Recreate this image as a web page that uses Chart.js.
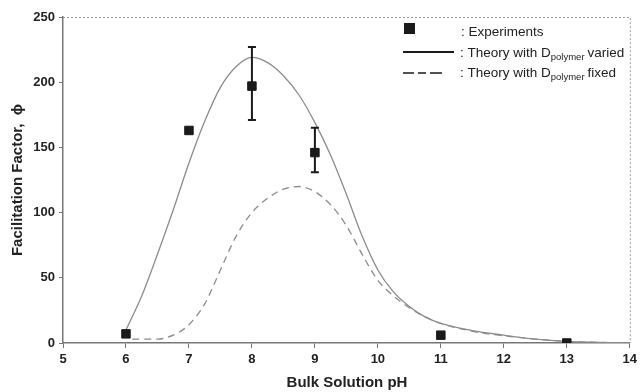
<!DOCTYPE html>
<html>
<head>
<meta charset="utf-8">
<script src="https://cdn.jsdelivr.net/npm/chart.js@4.4.1/dist/chart.umd.min.js"></script>
<style>
  html, body { margin: 0; padding: 0; background: #fff; }
  #wrap { width: 641px; height: 392px; }
</style>
</head>
<body>
<div id="wrap"><canvas id="chart" width="641" height="392"></canvas></div>
<script>
// experiments
const expPH = [6, 7, 8, 9, 11, 13]
const expPhi = [7, 163, 197, 146, 6, 0]
const errLow = [null, null, 171, 131, null, null]
const errHigh = [null, null, 227, 165, null, null]

// theory, D_polymer varied
const variedPH = [6, 6.25, 6.5, 6.75, 7, 7.25, 7.5, 7.75, 8, 8.25, 8.5, 8.75, 9, 9.25, 9.5, 9.75, 10, 10.25, 10.5, 10.75, 11, 11.5, 12, 12.5, 13, 13.5, 14]
const variedPhi = [10, 36, 68, 102, 138, 170, 196, 212, 219, 215, 205, 190, 169, 144, 114, 82, 56, 39, 28, 20, 15, 9.5, 6, 3, 1.2, 0.5, 0]

// theory, D_polymer fixed
const fixedPH = [6.1, 6.5, 6.75, 7, 7.25, 7.5, 7.75, 8, 8.25, 8.5, 8.75, 9, 9.25, 9.5, 9.75, 10, 10.25, 10.5, 10.75, 11, 11.5, 12, 12.5, 13, 13.5, 14]
const fixedPhi = [3, 3, 6, 14, 30, 56, 82, 100, 111, 118, 120, 116, 106, 90, 68, 48, 36, 27, 20, 15, 9, 5.5, 3, 1.2, 0.5, 0]

const curveColor = '#8c8c8c'
const axisColor = '#777'

function pts(xs, ys) {
  return xs.map((x, i) => ({ x: x, y: ys[i] }))
}

const extras = {
  id: 'extras',
  beforeDatasetsDraw(chart) {
    const { ctx, chartArea: a } = chart
    // dotted top / right frame
    ctx.save()
    ctx.strokeStyle = '#999'
    ctx.lineWidth = 1
    ctx.setLineDash([2, 2])
    ctx.beginPath()
    ctx.moveTo(a.left, a.top + 0.5)
    ctx.lineTo(a.right + 0.5, a.top + 0.5)
    ctx.lineTo(a.right + 0.5, a.bottom)
    ctx.stroke()
    ctx.restore()
  },
  afterDatasetsDraw(chart) {
    const { ctx } = chart
    const xs = chart.scales.x, ys = chart.scales.y
    // error bars
    ctx.save()
    ctx.strokeStyle = '#1a1a1a'
    ctx.lineWidth = 2
    expPH.forEach((ph, i) => {
      if (errLow[i] == null) return
      const px = xs.getPixelForValue(ph)
      const lo = ys.getPixelForValue(errLow[i])
      const hi = ys.getPixelForValue(errHigh[i])
      ctx.beginPath()
      ctx.moveTo(px, lo); ctx.lineTo(px, hi)
      ctx.moveTo(px - 4, lo); ctx.lineTo(px + 4, lo)
      ctx.moveTo(px - 4, hi); ctx.lineTo(px + 4, hi)
      ctx.stroke()
    })
    ctx.restore()

    // legend
    ctx.save()
    ctx.fillStyle = '#1a1a1a'
    ctx.fillRect(404, 23, 11, 11)
    ctx.strokeStyle = '#1a1a1a'
    ctx.lineWidth = 2
    ctx.beginPath(); ctx.moveTo(403, 52); ctx.lineTo(454, 52); ctx.stroke()
    ctx.lineWidth = 1.5
    ctx.setLineDash([11, 4, 8, 4, 12, 30])
    ctx.beginPath(); ctx.moveTo(403, 73); ctx.lineTo(454, 73); ctx.stroke()
    ctx.setLineDash([])
    ctx.fillStyle = '#222'
    ctx.textBaseline = 'middle'
    const big = '13.5px "Liberation Sans", Arial, sans-serif'
    const small = '9.5px "Liberation Sans", Arial, sans-serif'
    ctx.font = big
    ctx.fillText(': Experiments', 461, 32)
    const rows = [[': Theory with D', 'varied', 53], [': Theory with D', 'fixed', 73]]
    rows.forEach(r => {
      ctx.font = big
      let x = 460
      ctx.fillText(r[0], x, r[2])
      x += ctx.measureText(r[0]).width
      ctx.font = small
      ctx.fillText('polymer', x, r[2] + 4)
      x += ctx.measureText('polymer').width + 3
      ctx.font = big
      ctx.fillText(r[1], x, r[2])
    })

    // axis titles
    ctx.fillStyle = '#222'
    ctx.textAlign = 'center'
    ctx.font = 'bold 15px "Liberation Sans", Arial, sans-serif'
    ctx.fillText('Bulk Solution pH', 347, 383)
    ctx.translate(18, 180)
    ctx.rotate(-Math.PI / 2)
    ctx.fillText('Facilitation Factor,  ϕ', 0, 0)
    ctx.restore()
  }
}

new Chart(document.getElementById('chart'), {
  type: 'scatter',
  data: {
    datasets: [
      {
        label: 'Theory with D_polymer varied',
        data: pts(variedPH, variedPhi),
        showLine: true,
        borderColor: curveColor,
        borderWidth: 1.3,
        pointRadius: 0,
        cubicInterpolationMode: 'monotone',
        order: 2
      },
      {
        label: 'Theory with D_polymer fixed',
        data: pts(fixedPH, fixedPhi),
        showLine: true,
        borderColor: curveColor,
        borderWidth: 1.3,
        borderDash: [7, 5],
        pointRadius: 0,
        cubicInterpolationMode: 'monotone',
        order: 3
      },
      {
        label: 'Experiments',
        data: pts(expPH, expPhi),
        pointStyle: 'rect',
        pointRadius: 6,
        backgroundColor: '#1a1a1a',
        borderColor: '#1a1a1a',
        order: 1
      }
    ]
  },
  options: {
    responsive: false,
    animation: false,
    layout: { padding: { top: 17, right: 9, left: 0, bottom: 0 } },
    plugins: {
      legend: { display: false },
      tooltip: { enabled: false }
    },
    scales: {
      x: {
        type: 'linear',
        min: 5, max: 14,
        afterFit: s => { s.height = 49 },
        ticks: {
          stepSize: 1,
          color: '#222',
          padding: 4,
          font: { family: '"Liberation Sans", Arial, sans-serif', size: 13, weight: 'bold' }
        },
        grid: { drawOnChartArea: false, tickLength: 5, color: axisColor },
        border: { color: axisColor, width: 1.5 }
      },
      y: {
        min: 0, max: 250,
        afterFit: s => { s.width = 63 },
        ticks: {
          stepSize: 50,
          color: '#222',
          padding: 4,
          font: { family: '"Liberation Sans", Arial, sans-serif', size: 13, weight: 'bold' }
        },
        grid: { drawOnChartArea: false, tickLength: 4, color: axisColor },
        border: { color: axisColor, width: 1.5 }
      }
    }
  },
  plugins: [extras]
})
</script>
</body>
</html>
